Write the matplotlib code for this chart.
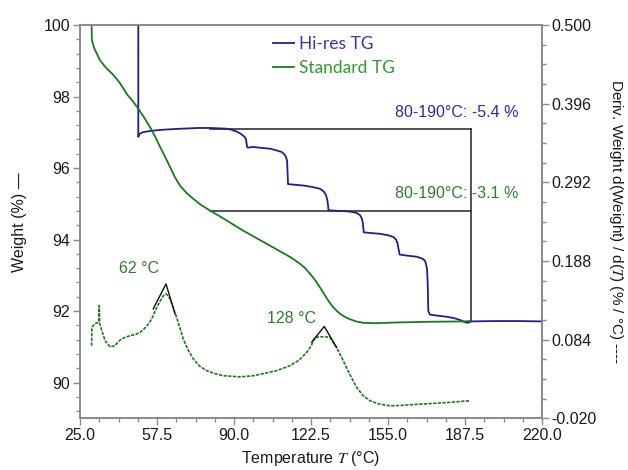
import numpy as np
import matplotlib
matplotlib.use("Agg")
import matplotlib.pyplot as plt
from matplotlib.ticker import FixedLocator, MultipleLocator, FormatStrFormatter

plt.rcParams['font.family'] = ['Liberation Sans', 'DejaVu Sans']
plt.rcParams['mathtext.fontset'] = 'stix'

# ---------------- data ----------------
hires_T = [49.6, 49.6, 50.0, 51.5, 54, 58, 62, 68, 75, 80, 86.9, 89, 91.5, 93, 94.3, 95.0,
           95.3, 95.5, 95.8, 98, 102, 105.2, 107.5, 110.1, 111.3, 112.0, 112.4, 112.6, 112.8,
           116, 119.3, 123, 126.3, 127.8, 128.8, 129.4, 129.7, 129.9,
           134, 137.5, 140, 141.8, 143.2, 144.0, 144.4, 144.6, 144.8,
           148, 151.6, 155, 157.3, 158.4, 159.0, 159.4, 159.7, 159.9,
           163, 167.1, 169.3, 170.6, 171.1, 171.5, 171.8, 172.0, 172.7, 176, 179.7, 183,
           185.4, 187, 188.5, 190.3, 200, 210, 220]
hires_W = [100, 96.87, 96.95, 97.0, 97.03, 97.06, 97.08, 97.1, 97.12, 97.12, 97.1, 97.07,
           97.01, 96.95, 96.88, 96.82, 96.7, 96.6, 96.57, 96.59, 96.56, 96.54, 96.5, 96.45,
           96.38, 96.3, 96.2, 95.9, 95.55, 95.53, 95.51, 95.47, 95.42, 95.35, 95.25, 95.1,
           94.95, 94.82, 94.8, 94.79, 94.77, 94.74, 94.68, 94.58, 94.45, 94.3, 94.2,
           94.18, 94.16, 94.12, 94.07, 94.0, 93.9, 93.75, 93.65, 93.58,
           93.55, 93.52, 93.47, 93.41, 93.3, 93.15, 92.7, 92.0, 91.9, 91.87, 91.84, 91.8,
           91.75, 91.7, 91.67, 91.71, 91.72, 91.72, 91.71]

std_T = [29.9, 30.0, 31, 33.4, 36, 38.4, 40, 41.9, 45, 47.5, 49.6, 52, 54.5, 56.7, 58.8,
         61, 63, 65, 67.2, 70, 72.8, 76, 79.9, 86, 93.8, 103.8, 110, 114, 117.9, 120, 122,
         124.2, 126.3, 128.3, 130, 131.7, 133.3, 135, 137, 139, 141.5, 144.6, 150, 158.7,
         172.7, 186.8, 189.6]
std_W = [100.05, 99.58, 99.35, 99.02, 98.8, 98.65, 98.53, 98.37, 98.05, 97.85, 97.66,
         97.42, 97.15, 96.88, 96.59, 96.3, 96.03, 95.75, 95.51, 95.3, 95.14, 94.97, 94.81,
         94.57, 94.25, 93.88, 93.65, 93.5, 93.32, 93.2, 93.05, 92.87, 92.66, 92.45, 92.27,
         92.12, 92.01, 91.91, 91.83, 91.77, 91.71, 91.67, 91.66, 91.68, 91.70, 91.71, 91.72]

deriv_T = [29.9, 30.0, 31.3, 32.7, 33.0, 33.1, 33.3, 34.0, 35.6, 37.7, 39.8, 41.0, 42.6,
           44.0, 46.1, 48.5, 50.3, 52.0, 53.8, 55.5, 57.4, 59.0, 60.2, 61.3, 62.2, 63.0,
           64.4, 65.8, 67.2, 68.6, 70.5, 72.8, 75.5, 78.5, 82.0, 85.5, 92.5, 97.5, 102.4,
           108.0, 113.6, 117.5, 120.7, 122.6, 124.2, 126.3, 128.5, 130.5, 133.3, 135.5,
           137.5, 139.7, 141.8, 144.5, 147.4, 151.0, 155.9, 160.0, 167.1, 179.7, 189.6]
deriv_D = [0.0760, 0.1001, 0.1053, 0.1067, 0.1100, 0.1289, 0.1053, 0.0980, 0.0826, 0.0745,
           0.0760, 0.0810, 0.0849, 0.0870, 0.0892, 0.0910, 0.0935, 0.0980, 0.1043, 0.1130,
           0.1265, 0.1360, 0.1421, 0.1445, 0.1420, 0.1379, 0.1260, 0.1133, 0.0990, 0.0849,
           0.0710, 0.0585, 0.0490, 0.0429, 0.0390, 0.0363, 0.0348, 0.0360, 0.0391, 0.0430,
           0.0495, 0.0570, 0.0670, 0.0760, 0.0868, 0.0878, 0.0878, 0.0868, 0.0736, 0.0600,
           0.0471, 0.0330, 0.0207, 0.0100, 0.0032, -0.0010, -0.0035, -0.0030, -0.0016,
           0.0008, 0.0032]

tangent1_T = [55.9, 61.3, 65.1]
tangent1_D = [0.1247, 0.1577, 0.118]
tangent2_T = [122.8, 128.1, 133.3]
tangent2_D = [0.0807, 0.1015, 0.0736]

step_range = [80, 190]
hires_level = [97.1, 91.71]
std_level = 94.8

x_ticks = [25.0, 57.5, 90.0, 122.5, 155.0, 187.5, 220.0]
y_ticks = [90, 92, 94, 96, 98, 100]
y2_ticks = [-0.020, 0.084, 0.188, 0.292, 0.396, 0.500]

# ---------------- style ----------------
blue = '#1f1f8f'
green = '#1b7a1b'
blue_txt = '#2b2ba0'
green_txt = '#2a7f2a'
spine_c = '#8a8a8a'

fig = plt.figure(figsize=(6.28, 4.70), dpi=100)
ax = fig.add_axes([80/628, 1-418.3/470, (542-80)/628, (418.3-25)/470])
ax2 = ax.twinx()

ax.set_xlim(25, 220)
ax.set_ylim(89, 100)
ax2.set_ylim(-0.020, 0.500)

# rectangle / step markers
ax.plot(step_range, [hires_level[0], hires_level[0]], color='#222222', lw=1.1, zorder=2)
ax.plot(step_range, [std_level, std_level], color='#222222', lw=1.1, zorder=2)
ax.plot([step_range[1], step_range[1]], hires_level, color='#222222', lw=1.1, zorder=2)

l1, = ax.plot(hires_T, hires_W, color=blue, lw=1.3, zorder=3)
l2, = ax.plot(std_T, std_W, color=green, lw=1.3, zorder=3)

ax2.plot(deriv_T, deriv_D, color=green, lw=1.2, linestyle=(0, (2.0, 0.8)), zorder=3)
ax2.plot(tangent1_T, tangent1_D, color='#111111', lw=1.0, zorder=4)
ax2.plot(tangent2_T, tangent2_D, color='#111111', lw=1.0, zorder=4)

# ticks
ax.xaxis.set_major_locator(FixedLocator(x_ticks))
ax.xaxis.set_minor_locator(FixedLocator(list(np.arange(25, 220.01, 8.125))))
ax.xaxis.set_major_formatter(FormatStrFormatter('%.1f'))
ax.yaxis.set_major_locator(FixedLocator(y_ticks))
ax.yaxis.set_minor_locator(MultipleLocator(0.4))
ax2.yaxis.set_major_locator(FixedLocator(y2_ticks))
minor2 = [t + k * 0.026 for t in y2_ticks[:-1] for k in (1, 2, 3)]
ax2.yaxis.set_minor_locator(FixedLocator(minor2))
ax2.yaxis.set_major_formatter(FormatStrFormatter('%.3f'))

for a in (ax, ax2):
    for s in a.spines.values():
        s.set_color(spine_c)
        s.set_linewidth(1.2)
    a.tick_params(which='major', length=5, width=1, color=spine_c, labelsize=11.5,
                  labelcolor='#1a1a1a', direction='out', pad=2)
    a.tick_params(which='minor', length=3, width=1, color=spine_c, direction='out')

ax.set_xlabel(r'Temperature $T$ (°C)', fontsize=11.5, color='#1a1a1a', labelpad=4)
ax.set_ylabel('Weight (%) —', fontsize=11.5, color='#1a1a1a', labelpad=12)
ax2.set_ylabel(r'Deriv. Weight d(Weight) / d($T$) (% / °C) ----', fontsize=11,
               color='#1a1a1a', rotation=270, labelpad=20)

# annotations
ax.text(210, 97.56, '80-190°C: -5.4 %', color=blue_txt, fontsize=11.5, ha='right', va='center')
ax.text(210, 95.29, '80-190°C: -3.1 %', color=green_txt, fontsize=11.5, ha='right', va='center')
ax.text(49.9, 93.19, '62 °C', color=green_txt, fontsize=11.5, ha='center', va='center')
ax.text(114.5, 91.79, '128 °C', color=green_txt, fontsize=11.5, ha='center', va='center')

leg = ax.legend([l1, l2], ['Hi-res TG', 'Standard TG'], loc='upper left',
                bbox_to_anchor=(273/628, 1-36/470), bbox_transform=fig.transFigure,
                frameon=False, handlelength=1.2, handletextpad=0.3, borderpad=0,
                borderaxespad=0, labelspacing=0.45, prop={'family': 'Lato', 'size': 12.5})
for txt, c in zip(leg.get_texts(), ['#3535b0', '#2e9a2e']):
    txt.set_color(c)

fig.savefig('out.png', dpi=100)
